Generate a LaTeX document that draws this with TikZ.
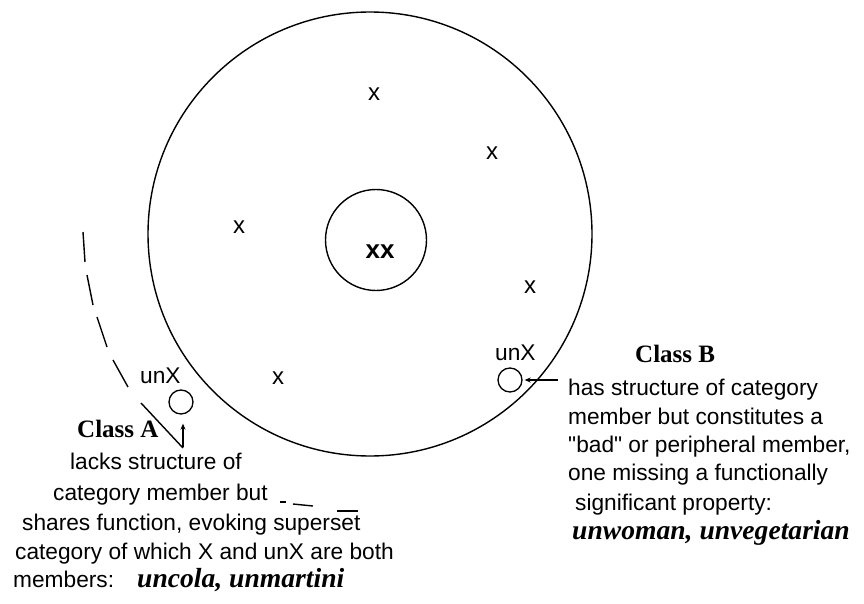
\documentclass[tikz,border=0pt]{standalone}
\usepackage{fontspec}
\newfontfamily\lsans{Liberation Sans}
\newfontfamily\lserif{Liberation Serif}
\usetikzlibrary{arrows.meta}
\begin{document}
\begin{tikzpicture}[x=1pt,y=-1pt,
  txt/.style={font=\lsans\fontsize{22.7}{26}\selectfont, inner sep=0pt, anchor=base west},
  cls/.style={font=\lserif\bfseries\fontsize{25}{28}\selectfont, inner sep=0pt, anchor=base west},
  exmp/.style={font=\lserif\bfseries\itshape\fontsize{27.6}{30}\selectfont, inner sep=0pt, anchor=base west},
  xmk/.style={font=\lsans\fontsize{24}{24}\selectfont, inner sep=0pt},
  ring/.style={circle, draw, line width=1.4pt, inner sep=0pt},
  smallc/.style={circle, draw, line width=1.3pt, minimum size=24pt, inner sep=0pt},
  dsh/.style={line width=1.4pt},
  arr/.style={-{Stealth[length=6pt,width=5pt]}, line width=1.1pt}
]
\useasboundingbox (0,0) rectangle (864,604);
% circles
\node[ring, minimum size=444pt] (big) at (370,234) {};
\node[ring, minimum size=101pt] (core) at (376,240) {};
\node[font=\lsans\bfseries\fontsize{26}{26}\selectfont, inner sep=0pt] (xx) at (380,252) {xx};
% members
\node[xmk] (x1) at (374,94) {x};
\node[xmk] (x2) at (492,153) {x};
\node[xmk] (x3) at (239,227) {x};
\node[xmk] (x4) at (530,287) {x};
\node[xmk] (x5) at (278,378) {x};
% class A
\node[smallc] (ca) at (181,402) {};
\node[txt] (unxa) at (140,383) {unX};
\node[cls] (clA) at (77,437) {Class A};
\coordinate (aT) at (183,447);
\draw[arr, shorten >=9pt] (aT) -- (aT |- ca.south);
% dashed arc
\draw[dsh] (83,232) -- (85,262);
\draw[dsh] (87,275) -- (93,305);
\draw[dsh] (97,317) -- (107,347);
\draw[dsh] (113,360) -- (128,387);
\draw[dsh] (141,403) -- (183,448);
\draw[dsh] (280,502) -- (286,502);
\draw[dsh] (293,504) -- (313,506);
\draw[dsh] (337,511) -- (358,511);
\node[txt] (a1) at (70,469) {lacks structure of};
\node[txt] (a2) at (53,500) {category member but};
\node[txt] (a3) at (22,530) {shares function, evoking superset};
\node[txt] (a4) at (15,559) {category of which X and unX are both};
\node[txt] (a5) at (13,587) {members:};
\node[exmp] (a6) at (137,587) {uncola, unmartini};
% class B
\node[smallc] (cb) at (510,380) {};
\node[txt] (unxb) at (495,360) {unX};
\node[cls] (clB) at (635,362) {Class B};
\coordinate (bT) at (558,380);
\draw[arr, shorten >=2pt] (bT) -- (cb.east);
\node[txt] (b1) at (568,395) {has structure of category};
\node[txt] (b2) at (568,424) {member but constitutes a};
\node[txt] (b3) at (568,452) {"bad" or peripheral member,};
\node[txt] (b4) at (568,480) {one missing a functionally};
\node[txt] (b5) at (575,510) {significant property:};
\node[exmp] (b6) at (572,539) {unwoman, unvegetarian};
\end{tikzpicture}
\end{document}
